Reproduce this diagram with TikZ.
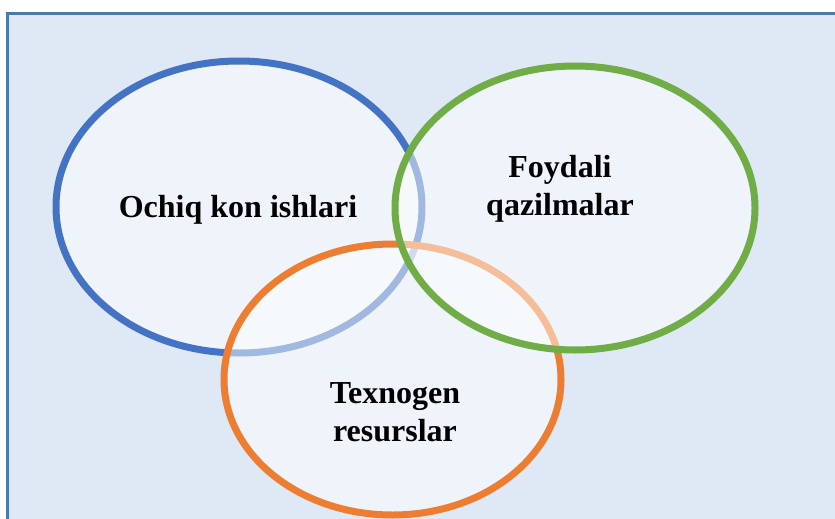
\documentclass[tikz,border=0pt]{standalone}
\usepackage{fontspec}
\setmainfont{Liberation Serif}
\usepackage{tikz}

\definecolor{frameblue}{HTML}{4A7AAB}
\definecolor{bgblue}{HTML}{DEE9F5}
\definecolor{setblue}{HTML}{4472C4}
\definecolor{setgreen}{HTML}{70AD47}
\definecolor{setorange}{HTML}{ED7D31}

\begin{document}
\begin{tikzpicture}[x=1pt, y=-1pt, line width=7pt]
    \tikzstyle{set_style} = [fill=white, fill opacity=0.5, draw opacity=1]
    \tikzstyle{label_style} = [font=\bfseries\fontsize{32}{38}\selectfont, align=center, text=black, inner sep=0pt]
    \useasboundingbox (0,0) rectangle (835,519);
    \fill[white] (0,0) rectangle (835,519);
    \draw[line width=3pt, draw=frameblue, fill=bgblue] (7.5,13.5) rectangle (850,540);

    % the three sets
    \draw[set_style, draw=setblue]   (239,207) ellipse [x radius=183pt, y radius=146pt];
    \draw[set_style, draw=setorange] (392.5,379.5) ellipse [x radius=168.5pt, y radius=135.5pt];
    \draw[set_style, draw=setgreen]  (575,208) ellipse [x radius=180pt, y radius=142pt];

    \node[label_style] (open) at (238,210) {Ochiq kon ishlari};
    \node[label_style] (minerals) at (560,189) {Foydali\\qazilmalar};
    \node[label_style] (techno) at (395,412) {Texnogen\\resurslar};
\end{tikzpicture}
\end{document}
